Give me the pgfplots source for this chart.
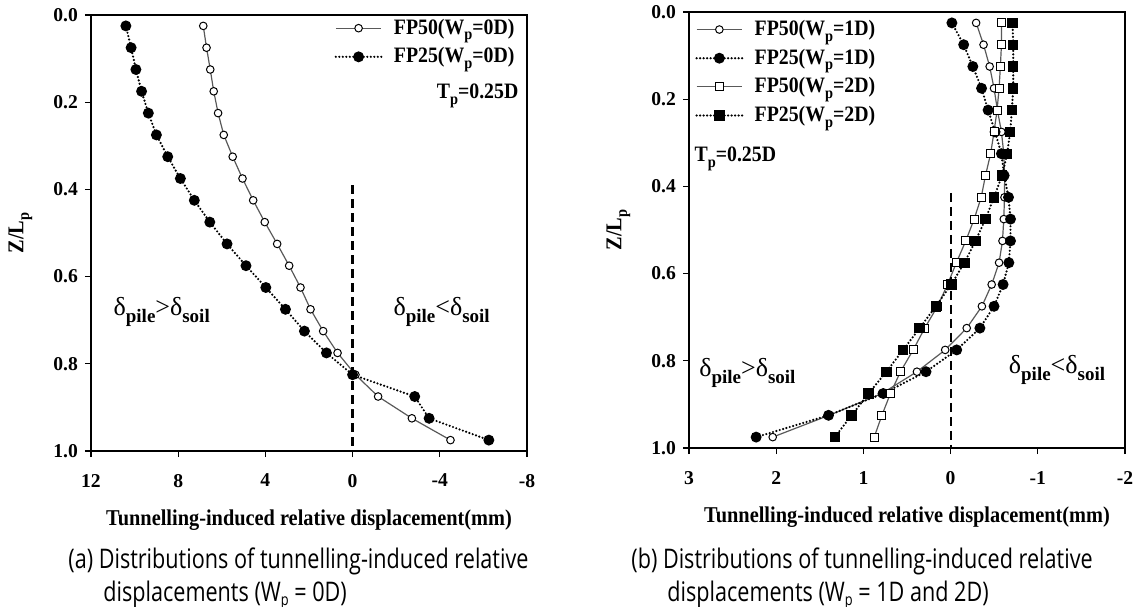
\documentclass[border=0pt]{standalone}
\usepackage{fontspec}
\setmainfont{Liberation Serif}
\newfontfamily\cfont[FakeStretch=0.9]{Liberation Serif}
\newfontfamily\capfont[FakeStretch=0.8]{Open Sans}
\usepackage{pgfplots}
\pgfplotsset{compat=1.18}

% lowered small subscript, as in the original figure
\newcommand{\lsub}[1]{\raisebox{-2.8pt}{\fontsize{8}{9}\selectfont\bfseries #1}}
\newcommand{\dsub}[1]{\raisebox{-3.5pt}{\fontsize{9.5}{10}\selectfont\bfseries #1}}
\newcommand{\ann}[1]{{\fontsize{13}{15}\selectfont δ\dsub{pile}#1δ\dsub{soil}}}
\newcommand{\lfont}{\cfont\fontsize{11}{13}\selectfont\bfseries}

\tikzset{vline/.style={black, line width=1.1pt, dash pattern=on 4.5pt off 2.5pt}}

\pgfplotsset{
  panel/.style={
    scale only axis, width=218pt, height=218pt,
    x dir=reverse, y dir=reverse,
    ymin=0, ymax=1, ytick={0,0.2,0.4,0.6,0.8,1.0},
    axis line style={line width=1.2pt},
    tick align=outside, xtick pos=bottom, ytick pos=left,
    major tick length=3pt,
    every tick/.style={black, line width=0.6pt},
    /pgf/number format/assume math mode=true,
    tick label style={font=\fontsize{9.8}{11}\selectfont\bfseries},
    yticklabel style={/pgf/number format/.cd, fixed, fixed zerofill, precision=1},
    xticklabel style={yshift=-5pt},
    xlabel={Tunnelling-induced relative displacement(mm)},
    ylabel={Z/L\lsub{p}},
    label style={font=\cfont\fontsize{11.3}{13}\selectfont\bfseries},
    xlabel style={at={(axis description cs:0.5,-0.158)}, anchor=center},
    ylabel style={at={(axis description cs:-0.162,0.5)}, anchor=center},
    legend style={draw=none, fill=none, font=\lfont, row sep=1.2pt},
    legend cell align=left,
    legend image code/.code={
      \draw[#1, mark repeat=2, mark phase=2]
        plot coordinates {(0cm,0cm) (0.4cm,0cm) (0.8cm,0cm)};
      \path (0.93cm,0cm);},
  },
  fp50/.style={color=black!65, line width=0.6pt,
    mark options={solid, draw=black, fill=white, line width=0.5pt}},
  fp25/.style={color=black, line width=1.2pt, line cap=round,
    dash pattern=on 0pt off 1.75pt,
    mark options={solid, draw=black, fill=black}},
}

\begin{document}
\begin{tikzpicture}

% (a) W_p = 0D
\begin{axis}[panel, at={(45.5pt,77.5pt)}, anchor=south west,
    xmin=-8, xmax=12, xtick={-8,-4,0,4,8,12},
    legend style={at={(axis description cs:0.995,1.01)}, anchor=north east}]
  \addplot[fp50, mark=*, mark size=1.9pt] coordinates {
    (6.85,0.025) (6.70,0.075) (6.53,0.125) (6.37,0.175) (6.17,0.225)
    (5.91,0.275) (5.50,0.325) (5.05,0.375) (4.56,0.425) (4.03,0.475)
    (3.46,0.525) (2.91,0.575) (2.39,0.625) (1.93,0.675) (1.35,0.725)
    (0.69,0.775) (-0.13,0.825) (-1.17,0.875) (-2.72,0.925) (-4.49,0.975)
  };
  \addlegendentry{FP50(W\lsub{p}=0D)}
  \addplot[fp25, mark=*, mark size=2.1pt] coordinates {
    (10.40,0.025) (10.16,0.075) (9.94,0.125) (9.68,0.175) (9.37,0.225)
    (9.00,0.275) (8.48,0.325) (7.90,0.375) (7.26,0.425) (6.55,0.475)
    (5.76,0.525) (4.89,0.575) (3.98,0.625) (3.08,0.675) (2.21,0.725)
    (1.20,0.775) (0.00,0.825) (-2.85,0.875) (-3.51,0.925) (-6.25,0.975)
  };
  \addlegendentry{FP25(W\lsub{p}=0D)}
  \draw[vline] (axis cs:0,0.39) -- (axis cs:0,1);
  \node[anchor=base east, font=\lfont, inner sep=0pt] at (axis cs:-7.62,0.192) {T\lsub{p}=0.25D};
  \node[anchor=base west, inner sep=0pt] at (axis cs:10.98,0.69) {\ann{>}};
  \node[anchor=base west, inner sep=0pt] at (axis cs:-1.86,0.69) {\ann{<}};
\end{axis}

% (b) W_p = 1D and 2D
\begin{axis}[panel, at={(344.5pt,79pt)}, anchor=south west,
    xmin=-2, xmax=3, xtick={-2,-1,0,1,2,3},
    legend style={at={(axis description cs:0.0,1.0)}, anchor=north west}]
  \addplot[fp50, mark=*, mark size=1.9pt] coordinates {
    (-0.293,0.025) (-0.378,0.075) (-0.448,0.125) (-0.498,0.175) (-0.537,0.225)
    (-0.583,0.275) (-0.610,0.325) (-0.620,0.375) (-0.618,0.425) (-0.610,0.475)
    (-0.595,0.525) (-0.556,0.575) (-0.471,0.625) (-0.359,0.675) (-0.185,0.725)
    (0.062,0.775) (0.386,0.825) (0.788,0.875) (1.394,0.925) (2.040,0.975)
  };
  \addlegendentry{FP50(W\lsub{p}=1D)}
  \addplot[fp25, mark=*, mark size=2.1pt] coordinates {
    (-0.015,0.025) (-0.150,0.075) (-0.255,0.125) (-0.355,0.175) (-0.430,0.225)
    (-0.510,0.275) (-0.583,0.325) (-0.614,0.375) (-0.664,0.425) (-0.687,0.475)
    (-0.687,0.525) (-0.668,0.575) (-0.602,0.625) (-0.498,0.675) (-0.336,0.725)
    (-0.070,0.775) (0.282,0.825) (0.772,0.875) (1.400,0.925) (2.230,0.975)
  };
  \addlegendentry{FP25(W\lsub{p}=1D)}
  \addplot[fp50, mark=square*, mark size=2pt] coordinates {
    (-0.583,0.025) (-0.583,0.075) (-0.571,0.125) (-0.556,0.175) (-0.533,0.225)
    (-0.498,0.275) (-0.459,0.325) (-0.400,0.375) (-0.351,0.425) (-0.270,0.475)
    (-0.174,0.525) (-0.066,0.575) (0.035,0.625) (0.150,0.675) (0.297,0.725)
    (0.429,0.775) (0.575,0.825) (0.690,0.875) (0.788,0.925) (0.876,0.975)
  };
  \addlegendentry{FP50(W\lsub{p}=2D)}
  \addplot[fp25, mark=square*, mark size=2pt] coordinates {
    (-0.710,0.025) (-0.718,0.075) (-0.718,0.125) (-0.718,0.175) (-0.703,0.225)
    (-0.683,0.275) (-0.649,0.325) (-0.590,0.375) (-0.498,0.425) (-0.400,0.475)
    (-0.286,0.525) (-0.158,0.575) (-0.008,0.625) (0.170,0.675) (0.355,0.725)
    (0.544,0.775) (0.737,0.825) (0.940,0.875) (1.135,0.925) (1.328,0.975)
  };
  \addlegendentry{FP25(W\lsub{p}=2D)}
  \draw[vline] (axis cs:0,0.415) -- (axis cs:0,1);
  \node[anchor=base west, font=\lfont, inner sep=0pt] at (axis cs:2.94,0.344) {T\lsub{p}=0.25D};
  \node[anchor=base west, inner sep=0pt] at (axis cs:2.886,0.835) {\ann{>}};
  \node[anchor=base west, inner sep=0pt] at (axis cs:-0.664,0.83) {\ann{<}};
\end{axis}

% captions
\begin{scope}[every node/.style={anchor=base west, inner sep=0pt,
    font=\capfont\fontsize{13.5}{16}\selectfont}]
  \node at (34pt,19pt) {(a) Distributions of tunnelling-induced relative};
  \node at (51.5pt,2.5pt) {displacements (W\raisebox{-2pt}{\fontsize{8}{9}\selectfont p} = 0D)};
  \node at (315.5pt,19pt) {(b) Distributions of tunnelling-induced relative};
  \node at (333.5pt,2.5pt) {displacements (W\raisebox{-2pt}{\fontsize{8}{9}\selectfont p} = 1D and 2D)};
\end{scope}

\pgfresetboundingbox
\useasboundingbox (0,0) rectangle (569.5pt,303pt);
\end{tikzpicture}
\end{document}
